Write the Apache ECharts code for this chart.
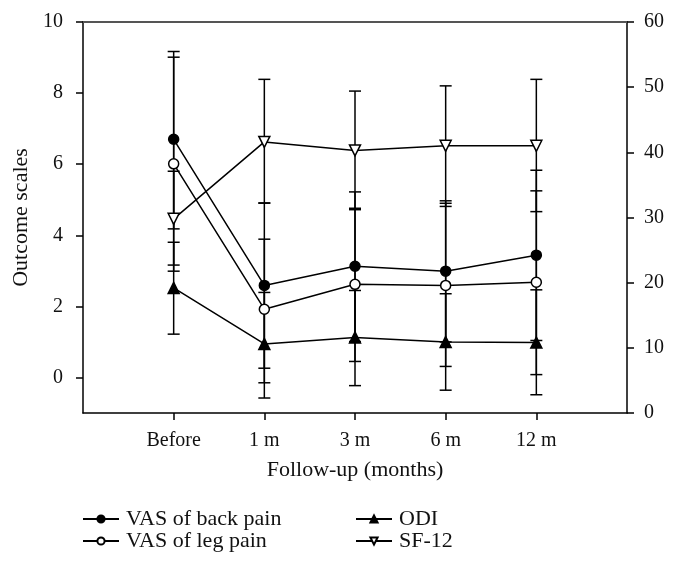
<!DOCTYPE html>
<html>
<head>
<meta charset="utf-8">
<script src="https://cdn.jsdelivr.net/npm/echarts@6/dist/echarts.min.js"></script>
<style>
  html, body { margin: 0; padding: 0; background: #fff; }
  #chart { width: 678px; height: 570px; }
</style>
</head>
<body>
<div id="chart"></div>
<script>
// follow-up points
var categories = ['Before', '1 m', '3 m', '6 m', '12 m'];

// VAS (left axis)
var backPain   = [6.70, 2.59, 3.13, 2.99, 3.44];
var backPainHi = [9.17, 4.91, 5.22, 4.97, 5.83];
var backPainLo = [4.18, 0.26, 1.01, 1.00, 1.04];
var legPain    = [6.01, 1.92, 2.62, 2.59, 2.68];
var legPainHi  = [9.01, 3.89, 4.76, 4.90, 5.25];
var legPainLo  = [2.99, -0.15, 0.45, 0.31, 0.08];

// ODI and SF-12 (right axis)
var odi    = [19.2, 10.6, 11.6, 10.9, 10.8];
var odiHi  = [26.2, 18.5, 18.8, 18.3, 18.9];
var odiLo  = [12.1, 2.3, 4.2, 3.5, 2.8];
var sf12   = [29.8, 41.6, 40.3, 41.0, 41.0];
var sf12Hi = [37.1, 51.2, 49.4, 50.2, 51.2];
var sf12Lo = [22.7, 32.2, 31.2, 31.7, 30.9];

var leftTicks = [0, 2, 4, 6, 8, 10];
var FONT = '"Liberation Serif", "DejaVu Serif", serif';

// padded category axis: empty slot at each end
var xData = [''].concat(categories, ['']);

function points(vals){
  return vals.map(function(v, i){ return [i + 1, v]; });
}
function bars(lo, hi){
  return lo.map(function(v, i){ return [i + 1, v, hi[i]]; });
}
function renderErr(params, api){
  var x = api.value(0);
  var p1 = api.coord([x, api.value(1)]);
  var p2 = api.coord([x, api.value(2)]);
  var w = 6;
  var st = { stroke: '#000', lineWidth: 1.5, fill: null };
  return {
    type: 'group',
    children: [
      { type: 'line', shape: { x1: p1[0], y1: p1[1], x2: p2[0], y2: p2[1] }, style: st },
      { type: 'line', shape: { x1: p1[0] - w, y1: p1[1], x2: p1[0] + w, y2: p1[1] }, style: st },
      { type: 'line', shape: { x1: p2[0] - w, y1: p2[1], x2: p2[0] + w, y2: p2[1] }, style: st }
    ]
  };
}
function errSeries(lo, hi, yIdx){
  return {
    type: 'custom',
    yAxisIndex: yIdx,
    renderItem: renderErr,
    data: bars(lo, hi),
    z: 1,
    silent: true
  };
}
function lineSeries(name, vals, yIdx, symbol, fill, rotate, size){
  return {
    name: name,
    type: 'line',
    yAxisIndex: yIdx,
    data: points(vals),
    symbol: symbol,
    symbolSize: size,
    symbolRotate: rotate,
    showAllSymbol: true,
    lineStyle: { color: '#000', width: 1.5 },
    itemStyle: { color: fill, borderColor: '#000', borderWidth: 1.5 },
    z: 3
  };
}
function legendBox(left, names){
  return {
    orient: 'vertical',
    left: left,
    top: 508,
    padding: 0,
    itemWidth: 36,
    itemHeight: 9,
    itemGap: 0,
    data: names,
    textStyle: { fontFamily: FONT, fontSize: 22, lineHeight: 22, color: '#111', padding: [0, 0, 0, 2] }
  };
}

var myChart = echarts.init(document.getElementById('chart'));
var option = {
  animation: false,
  textStyle: { fontFamily: FONT },
  grid: { left: 83, right: 51, top: 22, bottom: 157 },
  legend: [
    legendBox(82, ['VAS of back pain', 'VAS of leg pain']),
    legendBox(355, ['ODI', 'SF-12'])
  ],
  xAxis: [
    {
      type: 'category',
      data: xData,
      boundaryGap: false,
      name: 'Follow-up (months)',
      nameLocation: 'middle',
      nameGap: 46,
      nameTextStyle: { fontFamily: FONT, fontSize: 22, color: '#111' },
      axisLine: { onZero: false, lineStyle: { color: '#000', width: 1.5 } },
      axisTick: {
        length: 7,
        lineStyle: { color: '#000', width: 1.5 },
        interval: function(idx){ return idx > 0 && idx < xData.length - 1; }
      },
      axisLabel: {
        interval: 0,
        margin: 18,
        fontFamily: FONT, fontSize: 20, color: '#111'
      },
      splitLine: { show: false }
    },
    {
      type: 'category',
      position: 'top',
      data: xData,
      boundaryGap: false,
      axisLine: { onZero: false, lineStyle: { color: '#555', width: 2 } },
      axisTick: { show: false },
      axisLabel: { show: false },
      splitLine: { show: false }
    }
  ],
  yAxis: [
    {
      type: 'value',
      min: -1,
      max: 10,
      interval: 1,
      name: 'Outcome scales',
      nameLocation: 'middle',
      nameRotate: 90,
      nameGap: 43,
      nameTextStyle: { fontFamily: FONT, fontSize: 22, color: '#111' },
      axisLine: { show: true, onZero: false, lineStyle: { color: '#000', width: 1.5 } },
      axisTick: { show: true, length: 7, customValues: leftTicks, lineStyle: { color: '#000', width: 1.5 } },
      axisLabel: { customValues: leftTicks, margin: 20, fontFamily: FONT, fontSize: 20, color: '#111' },
      splitLine: { show: false }
    },
    {
      type: 'value',
      position: 'right',
      min: 0,
      max: 60,
      interval: 10,
      axisLine: { show: true, onZero: false, lineStyle: { color: '#000', width: 1.5 } },
      axisTick: { show: true, length: 7, lineStyle: { color: '#000', width: 1.5 } },
      axisLabel: { margin: 17, fontFamily: FONT, fontSize: 20, color: '#111' },
      splitLine: { show: false }
    }
  ],
  series: [
    errSeries(backPainLo, backPainHi, 0),
    errSeries(legPainLo, legPainHi, 0),
    errSeries(odiLo, odiHi, 1),
    errSeries(sf12Lo, sf12Hi, 1),
    lineSeries('VAS of back pain', backPain, 0, 'circle', '#000', 0, 10),
    lineSeries('VAS of leg pain', legPain, 0, 'circle', '#fff', 0, 10),
    lineSeries('ODI', odi, 1, 'triangle', '#000', 0, 11),
    lineSeries('SF-12', sf12, 1, 'triangle', '#fff', 180, 11)
  ]
};
myChart.setOption(option);
</script>
</body>
</html>
